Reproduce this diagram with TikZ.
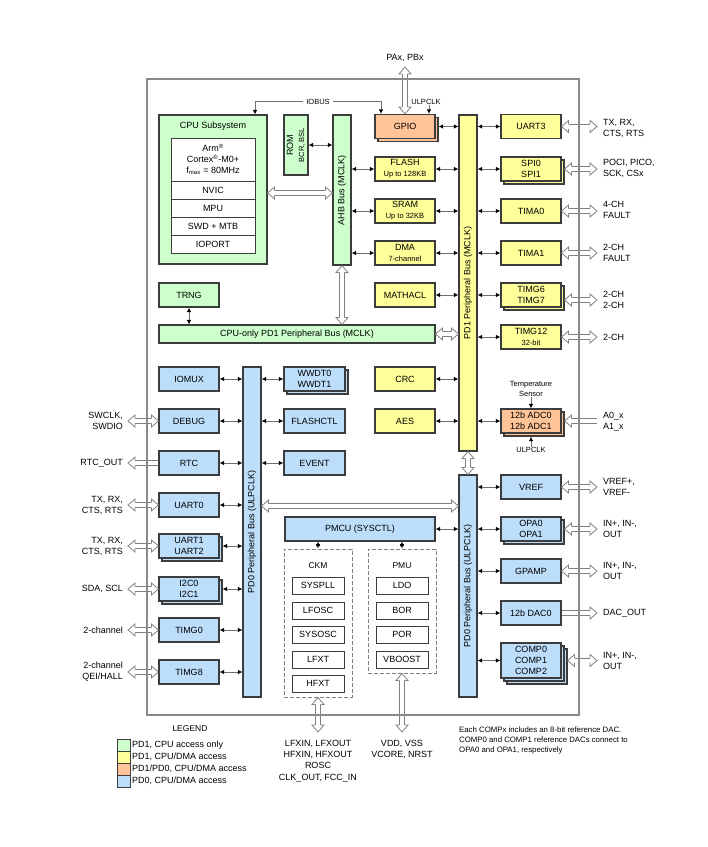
\documentclass[tikz,border=0pt]{standalone}
\usepackage{fontspec}
\setmainfont{Liberation Sans}
\usetikzlibrary{arrows.meta,shadows,positioning}

\definecolor{pdgreen}{HTML}{CCFFCC}
\definecolor{pdyellow}{HTML}{FFFF99}
\definecolor{pdorange}{HTML}{FFC497}
\definecolor{pdblue}{HTML}{BDDEFA}
\definecolor{boxline}{HTML}{3C3C3C}
\definecolor{framegray}{HTML}{8A8A8A}
\definecolor{widegray}{HTML}{808080}
\definecolor{lnkgray}{HTML}{6E6E6E}

\newcommand{\subtxt}[1]{{\fontsize{7.5}{9}\selectfont #1}}

% hollow head for the wide pin arrows
\pgfdeclarearrow{
    name = PinHead,
    parameters = {\the\pgfarrowlength,\the\pgfarrowwidth},
    setup code = {
        \pgfarrowssettipend{\pgfarrowlength}
        \pgfarrowssetlineend{0pt}
        \pgfarrowssetvisualbackend{0pt}
        \pgfarrowssetbackend{0pt}
        \pgfarrowshullpoint{\pgfarrowlength}{0pt}
        \pgfarrowsupperhullpoint{0pt}{.5\pgfarrowwidth}
        \pgfarrowssavethe\pgfarrowlength
        \pgfarrowssavethe\pgfarrowwidth
    },
    drawing code = {
        \pgfsetlinewidth{0.8pt}
        \pgfsetmiterjoin
        \pgfpathmoveto{\pgfqpoint{0pt}{.5\pgfarrowwidth}}
        \pgfpathlineto{\pgfqpoint{\pgfarrowlength}{0pt}}
        \pgfpathlineto{\pgfqpoint{0pt}{-.5\pgfarrowwidth}}
        \pgfpathclose
        \pgfsetfillcolor{white}
        \pgfusepathqfill
        \pgfpathmoveto{\pgfqpoint{0pt}{2.4pt}}
        \pgfpathlineto{\pgfqpoint{0pt}{.5\pgfarrowwidth}}
        \pgfpathlineto{\pgfqpoint{\pgfarrowlength}{0pt}}
        \pgfpathlineto{\pgfqpoint{0pt}{-.5\pgfarrowwidth}}
        \pgfpathlineto{\pgfqpoint{0pt}{-2.4pt}}
        \pgfusepathqstroke
    },
    defaults = {length=7pt, width=12pt}
}

\tikzset{
    blk/.style={draw=boxline, line width=1.1pt, inner sep=0pt, align=center,
        minimum width=60pt, minimum height=24pt,
        font=\fontsize{9}{11}\selectfont},
    grn/.style={blk, fill=pdgreen},
    ylw/.style={blk, fill=pdyellow},
    org/.style={blk, fill=pdorange},
    blu/.style={blk, fill=pdblue},
    cell/.style={blk, fill=white, line width=0.9pt, minimum width=84pt, minimum height=18pt},
    clkbox/.style={blk, fill=white, line width=0.9pt, minimum width=52pt, minimum height=17pt},
    group/.style={draw=widegray, line width=1pt, dash pattern=on 4pt off 2pt, inner sep=0pt},
    stack/.style={copy shadow={shadow xshift=3pt, shadow yshift=-3pt, fill=#1, draw=boxline, line width=1.1pt}},
    stacktwo/.style={copy shadow={shadow xshift=6pt, shadow yshift=-6pt, fill=#1, draw=boxline, line width=1.1pt},
        copy shadow={shadow xshift=3pt, shadow yshift=-3pt, fill=#1, draw=boxline, line width=1.1pt}},
    bustxt/.style={rotate=90, inner sep=0pt, align=center, font=\fontsize{9}{11}\selectfont},
    lnk/.style={draw=lnkgray, line width=0.9pt,
        {Latex[black,length=4.5pt,width=4.5pt]}-{Latex[black,length=4.5pt,width=4.5pt]}},
    tolnk/.style={draw=lnkgray, line width=0.9pt, -{Latex[black,length=4.5pt,width=4.5pt]}},
    wide/.style={draw=widegray, line width=0.8pt, double=white, double distance=4pt,
        {PinHead[fill=white, line width=0.8pt]}-{PinHead[fill=white, line width=0.8pt]}},
    wideto/.style={draw=widegray, line width=0.8pt, double=white, double distance=4pt,
        -{PinHead[fill=white, line width=0.8pt]}},
    outlbl/.style={anchor=west, inner sep=0pt, align=left, font=\fontsize{9}{11}\selectfont},
    inlbl/.style={anchor=east, inner sep=0pt, align=right, font=\fontsize{9}{11}\selectfont},
    smalllbl/.style={inner sep=0pt, align=center, font=\fontsize{7.5}{10}\selectfont},
    swatch/.style={draw=boxline, line width=0.8pt, minimum width=13pt, minimum height=12pt, inner sep=0pt},
}

\begin{document}
\begin{tikzpicture}[x=1pt, y=-1pt]
    \useasboundingbox (0,0) rectangle (708,847);

    % CPU subsystem
    \node[grn, minimum width=108pt, minimum height=149pt] (cpu) at (213,189.5) {};
    \node[inner sep=0pt, font=\fontsize{9}{11}\selectfont] (cputitle) at (213,126) {CPU Subsystem};
    \node[cell, minimum height=43pt] (arm) at (213,159.5)
        {Arm\textsuperscript{®}\\Cortex\textsuperscript{®}-M0+\\f\textsubscript{max} = 80MHz};
    \node[cell] (nvic) at (213,190) {NVIC};
    \node[cell] (mpu) at (213,208) {MPU};
    \node[cell] (swd) at (213,226) {SWD + MTB};
    \node[cell] (ioport) at (213,244) {IOPORT};

    \node[grn, minimum width=24pt, minimum height=60pt] (rom) at (296,145) {};
    \node[bustxt] (romtxt) at (rom) {ROM\\\subtxt{BCR, BSL}};
    \node[grn, minimum width=18pt, minimum height=150pt] (ahb) at (342,190) {};
    \node[bustxt] (ahbtxt) at (ahb) {AHB Bus (MCLK)};

    \node[grn] (trng) at (189,295) {TRNG};
    \node[grn, minimum width=276pt, minimum height=18pt] (cpubus) at (297,334)
        {CPU-only PD1 Peripheral Bus (MCLK)};

    % PD1 column
    \node[org, stack=pdorange] (gpio) at (405,126.5) {GPIO};
    \node[ylw] (flash) at (405,169) {FLASH\\\subtxt{Up to 128KB}};
    \node[ylw] (sram) at (405,211) {SRAM\\\subtxt{Up to 32KB}};
    \node[ylw] (dma) at (405,253) {DMA\\\subtxt{7-channel}};
    \node[ylw] (mathacl) at (405,295) {MATHACL};
    \node[ylw] (crc) at (405,379) {CRC};
    \node[ylw] (aes) at (405,421) {AES};

    \node[ylw, minimum width=18pt, minimum height=336pt] (pdonebus) at (468,283) {};
    \node[bustxt] (pdonetxt) at (pdonebus) {PD1 Peripheral Bus (MCLK)};

    \node[ylw] (uart3) at (531,126.5) {UART3};
    \node[ylw, stack=pdyellow] (spi) at (531,169) {SPI0\\SPI1};
    \node[ylw] (timazero) at (531,211) {TIMA0};
    \node[ylw] (timaone) at (531,253) {TIMA1};
    \node[ylw, stack=pdyellow] (timgsix) at (531,295) {TIMG6\\TIMG7};
    \node[ylw] (timgtw) at (531,337) {TIMG12\\\subtxt{32-bit}};
    \node[org, stack=pdorange] (adc) at (531,421) {12b ADC0\\12b ADC1};

    % PD0 left
    \node[blu] (iomux) at (189,379) {IOMUX};
    \node[blu] (debug) at (189,421) {DEBUG};
    \node[blu] (rtc) at (189,463) {RTC};
    \node[blu] (uartz) at (189,505) {UART0};
    \node[blu, stack=pdblue] (uartot) at (189,546) {UART1\\UART2};
    \node[blu, stack=pdblue] (itc) at (189,589) {I2C0\\I2C1};
    \node[blu] (timgz) at (189,630) {TIMG0};
    \node[blu] (timge) at (189,672) {TIMG8};

    \node[blu, minimum width=18pt, minimum height=330pt] (pdzlbus) at (252,532) {};
    \node[bustxt] (pdzltxt) at (pdzlbus) {PD0 Peripheral Bus (ULPCLK)};

    \node[blu, stack=pdblue, minimum width=61pt] (wwdt) at (314.5,379) {WWDT0\\WWDT1};
    \node[blu, minimum width=61pt] (flashctl) at (314.5,421) {FLASHCTL};
    \node[blu, minimum width=61pt] (event) at (314.5,463) {EVENT};

    \node[blu, minimum width=150pt] (pmcu) at (360,529) {PMCU (SYSCTL)};

    % clocks and power
    \node[group, minimum width=68pt, minimum height=148pt] (ckm) at (318,623) {};
    \node[inner sep=0pt, font=\fontsize{8.5}{10}\selectfont] (ckmtitle) at (318,566) {CKM};
    \node[clkbox] (syspll) at (318,585.5) {SYSPLL};
    \node[clkbox] (lfosc) at (318,610.5) {LFOSC};
    \node[clkbox] (sysosc) at (318,634.5) {SYSOSC};
    \node[clkbox] (lfxt) at (318,659.5) {LFXT};
    \node[clkbox] (hfxt) at (318,683.5) {HFXT};

    \node[group, minimum width=68pt, minimum height=124pt] (pmu) at (402,611) {};
    \node[inner sep=0pt, font=\fontsize{8.5}{10}\selectfont] (pmutitle) at (402,566) {PMU};
    \node[clkbox] (ldo) at (402,585.5) {LDO};
    \node[clkbox] (bor) at (402,610.5) {BOR};
    \node[clkbox] (por) at (402,634.5) {POR};
    \node[clkbox] (vboost) at (402,659.5) {VBOOST};

    % PD0 right
    \node[blu, minimum width=18pt, minimum height=222pt] (pdzrbus) at (468,586) {};
    \node[bustxt] (pdzrtxt) at (pdzrbus) {PD0 Peripheral Bus (ULPCLK)};

    \node[blu] (vref) at (531,487) {VREF};
    \node[blu, stack=pdblue] (opa) at (531,529) {OPA0\\OPA1};
    \node[blu] (gpamp) at (531,571) {GPAMP};
    \node[blu] (dac) at (531,613) {12b DAC0};
    \node[blu, stacktwo=pdblue, minimum height=35pt] (comp) at (531,660.5) {COMP0\\COMP1\\COMP2};

    % pad ends
    \coordinate (padt) at (405,67);
    \coordinate (padl) at (128,0);
    \coordinate (padr) at (597,0);
    \coordinate (padb) at (0,732);

    % top
    \node[inner sep=0pt, font=\fontsize{9}{11}\selectfont] (pins) at (405,58) {PAx, PBx};
    \draw[wide] (padt) -- (gpio.north);
    \draw[lnk] ([xshift=42pt]cpu.north) -- ++(0,-13) -| ([xshift=-24pt]gpio.north);
    \node[smalllbl, fill=white, inner xsep=3pt] (iobus) at (318,102) {IOBUS};
    \node[smalllbl] (gpioclk) at (426,102) {ULPCLK};
    \draw[tolnk] ([xshift=24pt]gpio.north |- gpioclk.south) -- ([xshift=24pt]gpio.north);

    % AHB
    \draw[lnk] (rom.east |- 0,145) -- (ahb.west |- 0,145);
    \draw[wide] ([yshift=-3.5pt]cpu.east) -- ([yshift=-3.5pt]cpu.east -| ahb.west);
    \draw[lnk] (flash.west -| ahb.east) -- (flash.west);
    \draw[lnk] (sram.west -| ahb.east) -- (sram.west);
    \draw[lnk] (dma.west -| ahb.east) -- (dma.west);
    \draw[wide] (ahb.south) -- (ahb.south |- cpubus.north);
    \draw[lnk] (trng.south) -- (trng.south |- cpubus.north);
    \draw[wide] (cpubus.east) -- (cpubus.east -| pdonebus.west);

    % PD1 links
    \draw[lnk] ([xshift=3pt]gpio.east) -- (gpio.east -| pdonebus.west);
    \draw[lnk] (flash.east) -- (flash.east -| pdonebus.west);
    \draw[lnk] (sram.east) -- (sram.east -| pdonebus.west);
    \draw[lnk] (dma.east) -- (dma.east -| pdonebus.west);
    \draw[lnk] (mathacl.east) -- (mathacl.east -| pdonebus.west);
    \draw[lnk] (crc.east) -- (crc.east -| pdonebus.west);
    \draw[lnk] (aes.east) -- (aes.east -| pdonebus.west);
    \draw[lnk] (uart3.west -| pdonebus.east) -- (uart3.west);
    \draw[lnk] (spi.west -| pdonebus.east) -- (spi.west);
    \draw[lnk] (timazero.west -| pdonebus.east) -- (timazero.west);
    \draw[lnk] (timaone.west -| pdonebus.east) -- (timaone.west);
    \draw[lnk] (timgsix.west -| pdonebus.east) -- (timgsix.west);
    \draw[lnk] (timgtw.west -| pdonebus.east) -- (timgtw.west);
    \draw[lnk] (adc.west -| pdonebus.east) -- (adc.west);
    \draw[wide] (pdonebus.south) -- (pdonebus.south |- pdzrbus.north);

    % ADC inputs
    \node[smalllbl] (tsense) at (531,389) {Temperature\\Sensor};
    \draw[tolnk] (tsense.south) -- (adc.north);
    \node[smalllbl] (adcclk) at (531,450) {ULPCLK};
    \draw[tolnk] (adcclk.north) -- ([yshift=-3pt]adc.south);

    % right pins
    \draw[wide] (uart3.east) -- (uart3.east -| padr);
    \draw[wide] ([xshift=3pt]spi.east) -- (spi.east -| padr);
    \draw[wide] (timazero.east) -- (timazero.east -| padr);
    \draw[wide] (timaone.east) -- (timaone.east -| padr);
    \draw[wide] ([shift={(3,5)}]timgsix.east) coordinate (timgpin) -- (timgpin -| padr);
    \draw[wide] (timgtw.east) -- (timgtw.east -| padr);
    \draw[wideto] (adc.east -| padr) -- ([xshift=3pt]adc.east);
    \draw[wide] (vref.east) -- (vref.east -| padr);
    \draw[wide] ([xshift=3pt]opa.east) -- (opa.east -| padr);
    \draw[wide] (gpamp.east) -- (gpamp.east -| padr);
    \draw[wideto] (dac.east) -- (dac.east -| padr);
    \draw[wide] ([xshift=6pt]comp.east) -- (comp.east -| padr);

    \node[outlbl] (uart3pins) at (603,128.5) {TX, RX,\\CTS, RTS};
    \node[outlbl] (spipins) at (603,168.5) {POCI, PICO,\\SCK, CSx};
    \node[outlbl] (timazpins) at (603,209.5) {4-CH\\FAULT};
    \node[outlbl] (timaopins) at (603,252.5) {2-CH\\FAULT};
    \node[outlbl] (timgspins) at (603,300) {2-CH\\2-CH};
    \node[outlbl] (timgtpins) at (603,337) {2-CH};
    \node[outlbl] (adcpins) at (603,421.5) {A0\_x\\A1\_x};
    \node[outlbl] (vrefpins) at (603,487) {VREF+,\\VREF-};
    \node[outlbl] (opapins) at (603,529) {IN+, IN-,\\OUT};
    \node[outlbl] (gpamppins) at (603,571) {IN+, IN-,\\OUT};
    \node[outlbl] (dacpins) at (603,613) {DAC\_OUT};
    \node[outlbl] (comppins) at (603,661) {IN+, IN-,\\OUT};

    % PD0 links
    \draw[lnk] (iomux.east) -- (iomux.east -| pdzlbus.west);
    \draw[lnk] (debug.east) -- (debug.east -| pdzlbus.west);
    \draw[lnk] (rtc.east) -- (rtc.east -| pdzlbus.west);
    \draw[lnk] (uartz.east) -- (uartz.east -| pdzlbus.west);
    \draw[lnk] ([xshift=3pt]uartot.east) -- (uartot.east -| pdzlbus.west);
    \draw[lnk] ([xshift=3pt]itc.east) -- (itc.east -| pdzlbus.west);
    \draw[lnk] (timgz.east) -- (timgz.east -| pdzlbus.west);
    \draw[lnk] (timge.east) -- (timge.east -| pdzlbus.west);
    \draw[lnk] (wwdt.west -| pdzlbus.east) -- (wwdt.west);
    \draw[lnk] (flashctl.west -| pdzlbus.east) -- (flashctl.west);
    \draw[lnk] (event.west -| pdzlbus.east) -- (event.west);
    \draw[wide] ([yshift=-1pt]uartz.east -| pdzlbus.east) -- ([yshift=-1pt]uartz.east -| pdzrbus.west);
    \draw[lnk] (pmcu.east) -- (pmcu.east -| pdzrbus.west);
    \draw[lnk] (pmcu.south -| ckm.north) -- (ckm.north);
    \draw[lnk] (pmcu.south -| pmu.north) -- (pmu.north);
    \draw[lnk] (vref.west -| pdzrbus.east) -- (vref.west);
    \draw[lnk] (opa.west -| pdzrbus.east) -- (opa.west);
    \draw[lnk] (gpamp.west -| pdzrbus.east) -- (gpamp.west);
    \draw[lnk] (dac.west -| pdzrbus.east) -- (dac.west);
    \draw[lnk] (comp.west -| pdzrbus.east) -- (comp.west);

    % left pins
    \draw[wide] (debug.west -| padl) -- (debug.west);
    \draw[wideto] (rtc.west) -- (rtc.west -| padl);
    \draw[wide] (uartz.west -| padl) -- (uartz.west);
    \draw[wide] (uartot.west -| padl) -- (uartot.west);
    \draw[wide] (itc.west -| padl) -- (itc.west);
    \draw[wide] (timgz.west -| padl) -- (timgz.west);
    \draw[wide] (timge.west -| padl) -- (timge.west);

    \node[inlbl] (debugpins) at (123,421) {SWCLK,\\SWDIO};
    \node[inlbl] (rtcpins) at (123,463) {RTC\_OUT};
    \node[inlbl] (uartzpins) at (123,505) {TX, RX,\\CTS, RTS};
    \node[inlbl] (uartotpins) at (123,546) {TX, RX,\\CTS, RTS};
    \node[inlbl] (itcpins) at (123,589) {SDA, SCL};
    \node[inlbl] (timgzpins) at (123,630) {2-channel};
    \node[inlbl] (timgepins) at (123,672) {2-channel\\QEI/HALL};

    % bottom pins
    \draw[wide] (ckm.south) -- (ckm.south |- padb);
    \draw[wide] (pmu.south) -- (pmu.south |- padb);
    \node[inner sep=0pt, align=center, font=\fontsize{9}{11.3}\selectfont] (ckmpins) at (318,761)
        {LFXIN, LFXOUT\\HFXIN, HFXOUT\\ROSC\\CLK\_OUT, FCC\_IN};
    \node[inner sep=0pt, align=center, font=\fontsize{9}{11.3}\selectfont] (pmupins) at (402,749.5)
        {VDD, VSS\\VCORE, NRST};

    % legend
    \node[inner sep=0pt, font=\fontsize{8.5}{10}\selectfont] (legend) at (190,729) {LEGEND};
    \node[swatch, fill=pdgreen] (keygreen) at (123.5,745) {};
    \node[swatch, fill=pdyellow] (keyyellow) at (123.5,757) {};
    \node[swatch, fill=pdorange] (keyorange) at (123.5,769) {};
    \node[swatch, fill=pdblue] (keyblue) at (123.5,781) {};
    \node[outlbl] (keygreentxt) at (132,745) {PD1, CPU access only};
    \node[outlbl] (keyyellowtxt) at (132,757) {PD1, CPU/DMA access};
    \node[outlbl] (keyorangetxt) at (132,769) {PD1/PD0, CPU/DMA access};
    \node[outlbl] (keybluetxt) at (132,781) {PD0, CPU/DMA access};

    \node[inner sep=0pt, anchor=north west, align=left, font=\fontsize{7.8}{10}\selectfont] (compnote) at (459,727)
        {Each COMPx includes an 8-bit reference DAC.\\COMP0 and COMP1 reference DACs connect to\\OPA0 and OPA1, respectively};

    % device outline
    \draw[framegray, line width=1.2pt] (147,79) rectangle (579,715);
\end{tikzpicture}
\end{document}
